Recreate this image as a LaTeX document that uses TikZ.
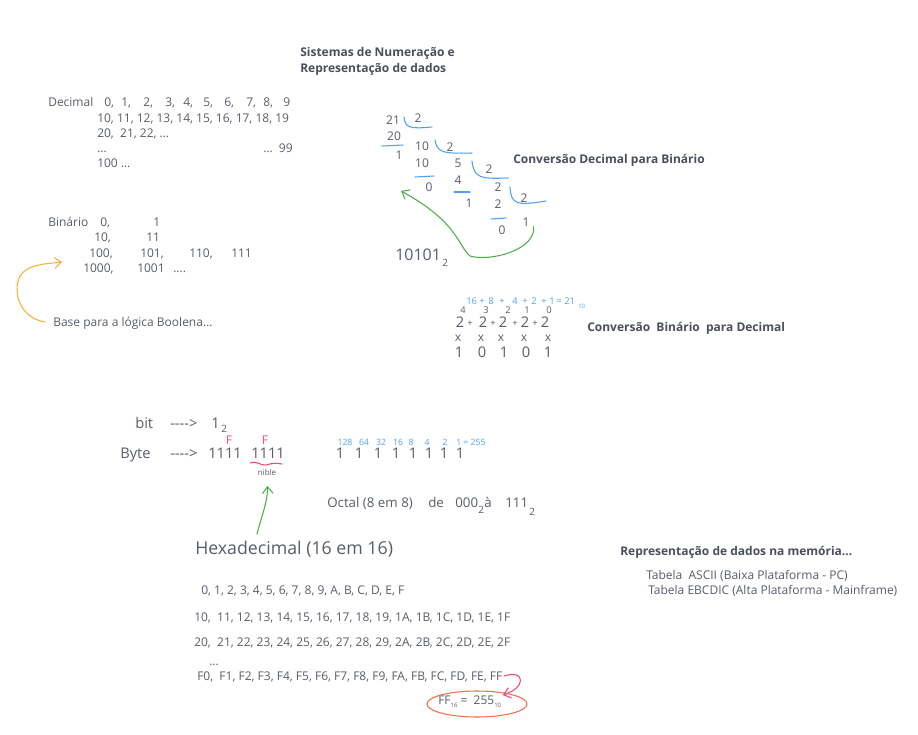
\documentclass[tikz,border=0pt]{standalone}
\usepackage{fontspec}
\setmainfont{Open Sans}
\usepackage{xcolor}
\usepackage{tikz}
\usetikzlibrary{arrows.meta}
\definecolor{ink}{HTML}{585D6B}
\definecolor{inkdark}{HTML}{4A4F5C}
\definecolor{sky}{HTML}{4DA3F5}
\definecolor{grn}{HTML}{4FAE4A}
\definecolor{org}{HTML}{F8B040}
\definecolor{pnk}{HTML}{EE4A78}
\definecolor{redl}{HTML}{F2704A}

\begin{document}
\begin{tikzpicture}[
  x=0.75pt, y=-0.75pt,
  txt/.style={inner sep=0pt, anchor=west, text=ink, font=\fontsize{9}{10}\selectfont, text height=6.5pt, text depth=0pt},
  head/.style={txt, text=inkdark, font=\bfseries\fontsize{9}{10}\selectfont},
  num/.style={txt, anchor=center},
  large/.style={font=\fontsize{11}{12}\selectfont, text height=8pt},
  sub/.style={font=\fontsize{7.5}{8}\selectfont, text height=5.5pt},
  tiny/.style={text=sky, font=\fontsize{6.5}{7}\selectfont, text height=4.7pt},
  hand/.style={line width=0.8pt, line cap=round, line join=round},
  >={Straight Barb[length=5pt,width=8pt]}
]
\fill[white] (0,0) rectangle (918,735);
\useasboundingbox (0,0) rectangle (918,735);

% title
\node[head] (title) at (300,52) {Sistemas de Numeração e};
\node[head] (title2) at (300,68) {Representação de dados};

% decimal
\node[txt] (dec) at (48,102) {Decimal};
\foreach \x/\d [count=\i] in {104/{0,},121/{1,},143/{2,},165/{3,},183/{4,},203/{5,},224/{6,},246/{7,},263/{8,},283/9}
  \node[txt] (d\i) at (\x,102) {\d};
\node[txt] (dec10) at (97,118) {10, 11, 12, 13, 14, 15, 16, 17, 18, 19};
\node[txt] (dec20) at (97,133) {20,\ \ 21, 22, …};
\node[txt] (decdots) at (97,148) {…};
\node[txt] (dec99) at (263,148) {…\ \ 99};
\node[txt] (dec100) at (97,163) {100 …};

% binario
\node[txt] (bin) at (48,222) {Binário};
\node[txt] (b0) at (100,222) {0,};
\node[txt] (b1) at (153,222) {1};
\node[txt] (b10) at (94,237) {10,};
\node[txt] (b11) at (146,237) {11};
\node[txt] (b100) at (89,253) {100,};
\node[txt] (b101) at (140,253) {101,};
\node[txt] (b110) at (189,253) {110,};
\node[txt] (b111) at (231,253) {111};
\node[txt] (b1000) at (83,268) {1000,};
\node[txt] (b1001) at (137,268) {1001};
\node[txt] (bmore) at (173,268) {....};
\node[txt] (base) at (53,322) {Base para a lógica Boolena…};
\coordinate (bintip) at (62,262);
\draw[hand, org, ->] ([xshift=-6pt]base.west) .. controls (20,318) and (12,292) .. (20,276) .. controls (28,264) and (45,264) .. (bintip);

% divisoes sucessivas
\foreach \x/\y/\d [count=\i] in {393/120/21, 418/118/2, 394/136/20, 399/155/1, 422/146/10, 450/147/2, 422/163/10, 429/187/0, 458/163/5, 489/169/2, 458/180/4, 469/203/1, 498/187/2, 498/204/2, 502/230/0, 524/198/2, 526/222/1}
  \node[num] (dv\i) at (\x,\y) {\d};
\draw[hand, sky] (404,117) .. controls (405,128) and (410,129) .. (432,127);
\draw[hand, sky] (382,146) -- (403,145);
\draw[hand, sky] (435,140) .. controls (437,152) and (442,154) .. (472,153);
\draw[hand, sky] (415,177) -- (434,176);
\draw[hand, sky] (472,161) .. controls (474,178) and (480,179) .. (508,178);
\draw[hand, sky] (454,192) -- (470,192);
\draw[hand, sky] (510,187) .. controls (511,204) and (516,206) .. (546,201);
\draw[hand, sky] (491,219) -- (506,218);
\coordinate (readtip) at (401,191);
\draw[hand, grn, ->] ([xshift=3pt]dv17.south east) .. controls (536,250) and (490,262) .. (470,256) .. controls (458,246) and (458,222) .. (readtip);
\node[txt, font=\fontsize{12}{13}\selectfont, text height=8.8pt] (res) at (395,255) {10101};
\node[txt, sub] (res2) at (442,263) {2};
\node[head] (convdb) at (513,159) {Conversão Decimal para Binário};

% binario para decimal
\foreach \x/\s [count=\i] in {466/16,479/+,488/8,499/+,512/4,522/+,531/2,541/+,549/1,556/=,564/21}
  \node[txt, tiny, font=\fontsize{7}{8}\selectfont] (sum\i) at (\x,301) {\s};
\node[txt, tiny, font=\fontsize{4.5}{5}\selectfont] (sum10) at (578,305) {10};
\foreach \x/\e [count=\i] in {463/4,486/3,508/2,527/1,549/0}
  \node[num, font=\fontsize{7}{8}\selectfont, text height=5pt] (ex\i) at (\x,310) {\e};
\foreach \x [count=\i] in {460,483,503,525,545}
  \node[num, large] (two\i) at (\x,322) {2};
\foreach \x [count=\i] in {470,493,515,535}
  \node[num, font=\fontsize{7}{8}\selectfont, text height=5pt] (plus\i) at (\x,323) {+};
\foreach \x [count=\i] in {458,481,501,524,548}
  \node[num] (times\i) at (\x,337) {x};
\foreach \x/\b [count=\i] in {459/1,482/0,504/1,526/0,548/1}
  \node[num, large] (bit\i) at (\x,352) {\b};
\node[head] (convbd) at (587,327) {Conversão\ \ Binário\ \ para Decimal};

% bit e byte
\node[txt, large] (bit) at (135,423) {bit};
\node[txt, large] (bitarr) at (170,423) {{-}{-}{-}{-}>};
\node[txt, large] (bitone) at (211,423) {1};
\node[txt, sub] (bitsub) at (221,429) {2};
\node[txt, large] (byte) at (120,453) {Byte};
\node[txt, large] (bytearr) at (170,453) {{-}{-}{-}{-}>};
\node[txt, large] (nib1) at (208,453) {1111};
\node[txt, large] (nib2) at (251,453) {1111};
\node[num, text=pnk] (f1) at (229,440) {F};
\node[num, text=pnk] (f2) at (265,440) {F};
\draw[hand, pnk] (250,463) .. controls (256,460) and (261,466) .. (266,465) .. controls (272,463) and (277,463) .. (282,464);
\node[num, font=\fontsize{6}{7}\selectfont, text height=4.5pt] (nible) at (267,472) {nible};
\foreach \x/\w [count=\i] in {345/128,364/64,381/32,398/16,411/8,427/4,445/2}
  \node[num, tiny] (w\i) at (\x,442) {\w};
\node[txt, tiny] (wlast) at (456,442) {1 = 255};
\foreach \x [count=\i] in {340,359,378,396,413,429,444,460}
  \node[num, large] (one\i) at (\x,453) {1};

% octal
\node[txt, font=\fontsize{10}{11}\selectfont, text height=7.2pt] (octal) at (327,503) {Octal (8 em 8)};
\node[txt, font=\fontsize{10}{11}\selectfont, text height=7.2pt] (octde) at (428,503) {de};
\node[txt, font=\fontsize{10}{11}\selectfont, text height=7.2pt] (oct0) at (455,503) {000};
\node[txt, sub] (oct0s) at (478,510) {2};
\node[txt, font=\fontsize{10}{11}\selectfont, text height=7.2pt] (octa) at (484,503) {à};
\node[txt, font=\fontsize{10}{11}\selectfont, text height=7.2pt] (oct1) at (505,503) {111};
\node[txt, sub] (oct1s) at (529,512) {2};

% hexadecimal
\node[txt, font=\fontsize{13.3}{15}\selectfont, text height=9.6pt] (hexa) at (195,548) {Hexadecimal (16 em 16)};
\coordinate (hexfoot) at (257,534);
\draw[hand, grn, ->, shorten >=8pt] (hexfoot) .. controls (262,515) and (268,500) .. (nible.south);
\node[txt] (hex0) at (201,590) {0, 1, 2, 3, 4, 5, 6, 7, 8, 9, A, B, C, D, E, F};
\node[txt] (hex1) at (194,617) {10,\ \ 11, 12, 13, 14, 15, 16, 17, 18, 19, 1A, 1B, 1C, 1D, 1E, 1F};
\node[txt] (hex2) at (194,642) {20,\ \ 21, 22, 23, 24, 25, 26, 27, 28, 29, 2A, 2B, 2C, 2D, 2E, 2F};
\node[txt] (hexdots) at (209,661) {…};
\node[txt] (hexf) at (197,676) {F0,\ \ F1, F2, F3, F4, F5, F6, F7, F8, F9, FA, FB, FC, FD, FE, FF};
\node[txt] (ffeq) at (438,700) {FF\raisebox{-2pt}{\fontsize{4.5}{5}\selectfont 16}\ =\ \ 255\raisebox{-2pt}{\fontsize{4.5}{5}\selectfont 10}};
\draw[hand, redl] (477,704) ellipse [x radius=50, y radius=13];
\draw[hand, pnk, ->, shorten >=1pt] ([xshift=1pt]hexf.east) .. controls (526,669) and (526,688) .. (ffeq.north east);

% memoria
\node[head] (mem) at (620,551) {Representação de dados na memória…};
\node[txt] (ascii) at (646,575) {Tabela\ \ ASCII (Baixa Plataforma - PC)};
\node[txt] (ebcdic) at (648,590) {Tabela EBCDIC (Alta Plataforma - Mainframe)};
\end{tikzpicture}
\end{document}
